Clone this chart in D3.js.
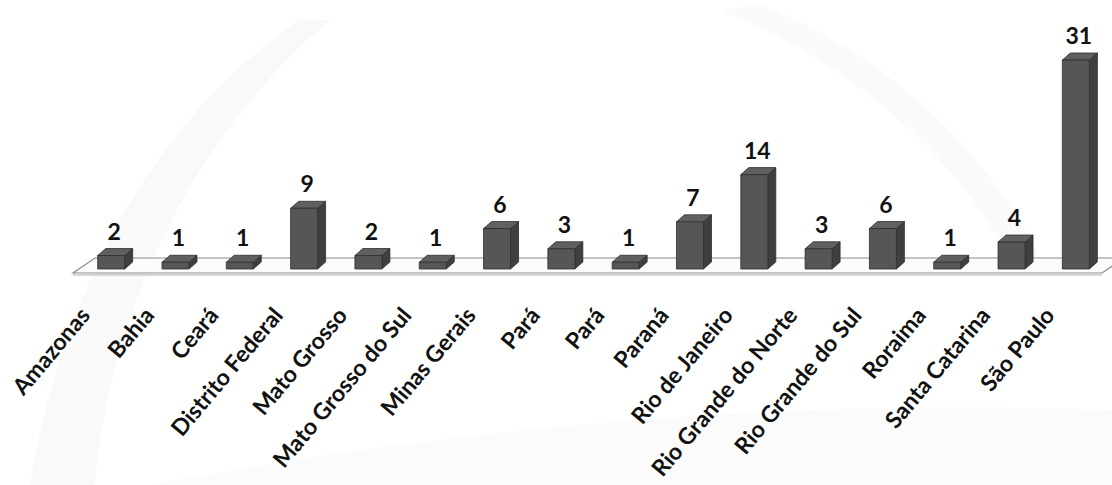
<!DOCTYPE html>
<html><head><meta charset="utf-8">
<script src="https://cdn.jsdelivr.net/npm/d3@7"></script>
<style>html,body{margin:0;padding:0;background:#fff;}svg{display:block;}</style>
</head><body>
<svg id="c" width="1112" height="485"></svg>
<script>
const categories = ["Amazonas","Bahia","Ceará","Distrito Federal","Mato Grosso","Mato Grosso do Sul","Minas Gerais","Pará","Pará","Paraná","Rio de Janeiro","Rio Grande do Norte","Rio Grande do Sul","Roraima","Santa Catarina","São Paulo"];
const values = [2,1,1,9,2,1,6,3,1,7,14,3,6,1,4,31];

const svg = d3.select("#c");
const floorFront = 273, floorBack = 258, floorDX = 22;
const baseY = 269, baseShift = 6;
const dx = 8, dy = 7, bw = 27;

// faint watermark
const wm = svg.append("g");
wm.append("path").attr("d","M 30 485 C 60 300, 150 120, 300 20 L 330 20 C 200 130, 110 300, 95 485 Z").attr("fill","#f9f9f9");
wm.append("path").attr("d","M 720 10 C 850 60, 960 160, 1010 260 L 1040 260 C 990 150, 880 50, 760 5 Z").attr("fill","#fafafa");
wm.append("path").attr("d","M 150 485 C 500 420, 800 400, 1112 410 L 1112 485 Z").attr("fill","#fbfbfb");

const x = d3.scaleBand().domain(d3.range(categories.length)).range([73, 1102]).paddingInner(0).paddingOuter(0);
const y = d3.scaleLinear().domain([0, 31]).range([baseY, baseY - 209]);

// floor
svg.append("path")
  .attr("d", `M73,${floorFront} L${73+floorDX},${floorBack} L${1102+floorDX},${floorBack} L1102,${floorFront} Z`)
  .attr("fill", "#fcfcfc").attr("stroke", "#8a8a8a").attr("stroke-width", 1.2);
svg.append("line").attr("x1",73).attr("x2",1102).attr("y1",floorFront+2).attr("y2",floorFront+2).attr("stroke","#d8d8d8").attr("stroke-width",2);

const g = svg.append("g");
values.forEach((v, i) => {
  const cx = x(i) + x.bandwidth()/2 + baseShift;
  const x0 = cx - bw/2, x1 = cx + bw/2;
  const top = y(v);
  const bar = g.append("g").attr("stroke", "#2e2e2e").attr("stroke-width", 0.8).attr("stroke-linejoin","round");
  bar.append("path").attr("d", `M${x1},${top} L${x1+dx},${top-dy} L${x1+dx},${baseY-dy} L${x1},${baseY} Z`).attr("fill", "#3f3f3f");
  bar.append("path").attr("d", `M${x0},${top} L${x0+dx},${top-dy} L${x1+dx},${top-dy} L${x1},${top} Z`).attr("fill", "#606060");
  bar.append("rect").attr("x", x0).attr("y", top).attr("width", bw).attr("height", baseY - top).attr("fill", "#565656");
  svg.append("text").attr("x", cx + 3).attr("y", top - 16).attr("text-anchor", "middle")
    .attr("font-family", "Lato, 'Open Sans', sans-serif").attr("font-weight", "bold").attr("font-size", 23).attr("fill", "#111").text(v);
});

// category labels
categories.forEach((c, i) => {
  const cx = x(i) + x.bandwidth()/2;
  svg.append("text").attr("transform", `translate(${cx - 14},${316}) rotate(-50)`)
    .attr("text-anchor", "end")
    .attr("font-family", "Lato, 'Open Sans', sans-serif").attr("font-weight", "bold").attr("font-size", 23).attr("fill", "#111").text(c);
});
</script>
</body></html>
